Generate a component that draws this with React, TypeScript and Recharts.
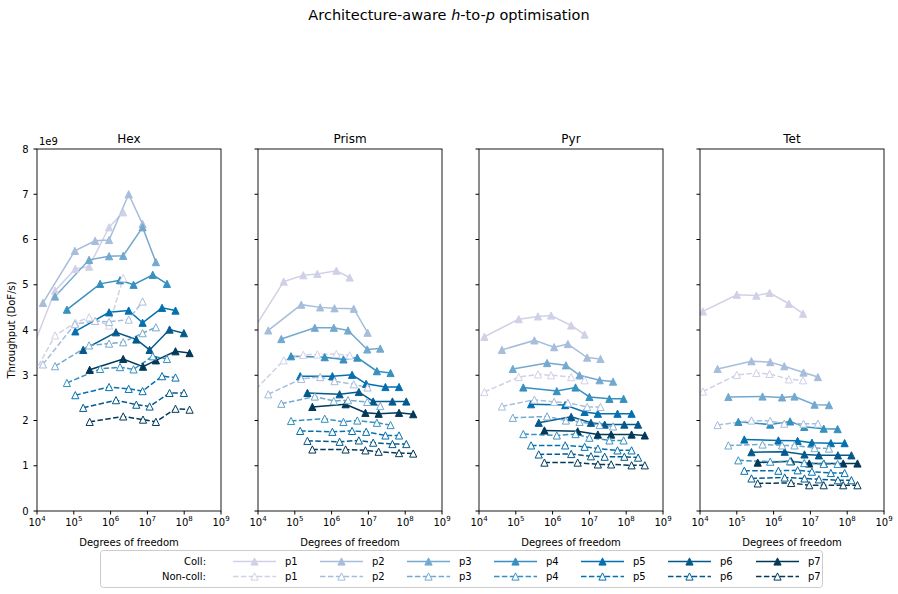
import React from 'react';
import { LineChart, Line, XAxis, YAxis } from 'recharts';

const elements = ['Hex', 'Prism', 'Pyr', 'Tet'];
const orders = ['p1', 'p2', 'p3', 'p4', 'p5', 'p6', 'p7'];
const colors = ['#d0d1e6', '#a6bddb', '#74a9cf', '#3690c0', '#0570b0', '#045a8d', '#023858'];
const xTicks = [1e4, 1e5, 1e6, 1e7, 1e8, 1e9];
const yTicks = [0, 1, 2, 3, 4, 5, 6, 7, 8];

// degrees of freedom per order, throughput in units of 1e9 DoF/s
const hexDof = [
  [4.2e3, 3.1e4, 1.1e5, 2.6e5, 9.1e5, 2.2e6],
  [1.45e4, 1.07e5, 3.8e5, 9.1e5, 3.1e6, 7.4e6],
  [3.1e4, 2.6e5, 9.1e5, 2.2e6, 7.4e6, 1.7e7],
  [6.5e4, 5.2e5, 1.8e6, 4.2e6, 1.4e7, 3.4e7],
  [1.1e5, 9.1e5, 3.1e6, 7.4e6, 2.5e7, 5.8e7],
  [1.8e5, 1.4e6, 5.0e6, 1.15e7, 4.0e7, 9.8e7],
  [2.7e5, 2.2e6, 7.6e6, 1.7e7, 5.8e7, 1.4e8],
];
const hexColl = [
  [3.06, 4.87, 5.35, 5.4, 6.27, 6.6],
  [4.6, 5.75, 5.97, 5.99, 7.0, 6.34],
  [4.74, 5.55, 5.63, 5.64, 6.27, 5.5],
  [4.45, 5.02, 5.1, 5.0, 5.22, 5.02],
  [3.97, 4.39, 4.43, 4.16, 4.49, 4.43],
  [3.56, 3.95, 3.79, 3.56, 4.01, 3.93],
  [3.12, 3.36, 3.19, 3.33, 3.53, 3.49],
];
const hexNonColl = [
  [2.6, 3.88, 4.16, 4.28, 4.1, 5.15],
  [3.24, 4.13, 4.2, 4.18, 4.23, 4.63],
  [3.2, 3.66, 3.7, 3.73, 3.93, 4.06],
  [2.83, 3.14, 3.18, 3.13, 3.42, 3.36],
  [2.56, 2.74, 2.7, 2.65, 2.98, 2.95],
  [2.28, 2.45, 2.35, 2.31, 2.61, 2.61],
  [1.97, 2.09, 2.02, 1.97, 2.26, 2.24],
];

const prismDof = [
  [6.3e3, 5.0e4, 1.7e5, 4.1e5, 1.35e6, 3.1e6],
  [1.9e4, 1.5e5, 4.9e5, 1.2e6, 4.0e6, 9.5e6],
  [4.3e4, 3.5e5, 1.15e6, 2.8e6, 9.3e6, 2.1e7],
  [7.9e4, 6.5e5, 2.1e6, 5.0e6, 1.7e7, 4.0e7],
  [1.4e5, 1.05e6, 3.6e6, 8.7e6, 2.9e7, 6.8e7],
  [2.2e5, 1.65e6, 5.5e6, 1.35e7, 4.5e7, 1.07e8],
  [3.0e5, 2.4e6, 8.3e6, 1.9e7, 6.8e7, 1.65e8],
];
const prismColl = [
  [3.91, 5.07, 5.21, 5.24, 5.31, 5.16],
  [3.99, 4.56, 4.5, 4.48, 4.47, 3.94],
  [3.8, 4.05, 4.05, 3.99, 3.57, 3.59],
  [3.42, 3.4, 3.35, 3.39, 3.09, 3.05],
  [2.98, 2.98, 3.01, 2.81, 2.74, 2.74],
  [2.61, 2.58, 2.63, 2.42, 2.42, 2.42],
  [2.3, 2.36, 2.17, 2.15, 2.17, 2.14],
];
const prismNonColl = [
  [2.57, 3.33, 3.45, 3.46, 3.47, 3.44],
  [2.58, 2.92, 2.96, 2.87, 2.8, 2.73],
  [2.37, 2.53, 2.43, 2.45, 2.41, 2.32],
  [1.99, 2.04, 1.97, 2.0, 1.95, 1.9],
  [1.77, 1.75, 1.77, 1.75, 1.67, 1.67],
  [1.55, 1.53, 1.56, 1.51, 1.48, 1.48],
  [1.36, 1.36, 1.34, 1.31, 1.28, 1.27],
];

const pyrDof = [
  [1.4e4, 1.2e5, 4.0e5, 9.1e5, 3.2e6, 7.4e6],
  [4.2e4, 3.2e5, 1.1e6, 2.6e6, 8.7e6, 2.0e7],
  [8.3e4, 7.1e5, 2.3e6, 5.4e6, 1.9e7, 4.4e7],
  [1.6e5, 1.3e6, 4.2e6, 1.0e7, 3.5e7, 8.5e7],
  [2.6e5, 2.2e6, 7.4e6, 1.7e7, 5.8e7, 1.4e8],
  [4.2e5, 3.2e6, 1.1e7, 2.6e7, 8.9e7, 2.1e8],
  [6.0e5, 4.8e6, 1.7e7, 3.9e7, 1.4e8, 3.2e8],
];
const pyrColl = [
  [3.85, 4.24, 4.3, 4.32, 4.1, 3.9],
  [3.56, 3.77, 3.62, 3.69, 3.39, 3.36],
  [3.14, 3.27, 3.22, 3.0, 2.89, 2.86],
  [2.73, 2.65, 2.73, 2.52, 2.48, 2.48],
  [2.36, 2.34, 2.19, 2.15, 2.15, 2.15],
  [1.95, 2.08, 1.95, 1.91, 1.91, 1.91],
  [1.78, 1.76, 1.69, 1.69, 1.69, 1.67],
];
const pyrNonColl = [
  [2.63, 2.96, 3.02, 3.0, 2.96, 2.89],
  [2.31, 2.46, 2.41, 2.39, 2.3, 2.3],
  [2.06, 2.09, 2.0, 1.97, 1.9, 1.87],
  [1.7, 1.67, 1.7, 1.62, 1.56, 1.56],
  [1.45, 1.45, 1.42, 1.38, 1.34, 1.34],
  [1.25, 1.26, 1.21, 1.2, 1.2, 1.18],
  [1.07, 1.07, 1.03, 1.03, 1.01, 1.01],
];

const tetDof = [
  [1.2e4, 1.0e5, 3.4e5, 7.8e5, 2.6e6, 6.3e6],
  [3.0e4, 2.5e5, 8.1e5, 1.95e6, 6.5e6, 1.6e7],
  [5.9e4, 5.0e5, 1.7e6, 3.7e6, 1.3e7, 3.2e7],
  [1.1e5, 8.1e5, 2.8e6, 6.8e6, 2.3e7, 5.5e7],
  [1.6e5, 1.35e6, 4.5e6, 1.1e7, 3.6e7, 8.5e7],
  [2.5e5, 2.0e6, 6.9e6, 1.7e7, 5.6e7, 1.3e8],
  [3.7e5, 3.0e6, 9.3e6, 2.3e7, 7.8e7, 1.9e8],
];
const tetColl = [
  [4.41, 4.78, 4.76, 4.82, 4.58, 4.36],
  [3.14, 3.31, 3.29, 3.2, 3.06, 2.96],
  [2.52, 2.53, 2.51, 2.53, 2.35, 2.34],
  [1.97, 1.91, 1.98, 1.86, 1.82, 1.81],
  [1.58, 1.56, 1.55, 1.51, 1.5, 1.5],
  [1.3, 1.31, 1.25, 1.23, 1.23, 1.23],
  [1.07, 1.1, 1.05, 1.05, 1.05, 1.05],
];
const tetNonColl = [
  [2.64, 3.01, 3.05, 3.03, 2.91, 2.89],
  [1.9, 2.0, 1.99, 1.93, 1.93, 1.93],
  [1.45, 1.47, 1.45, 1.45, 1.39, 1.38],
  [1.12, 1.09, 1.1, 1.06, 1.04, 1.04],
  [0.89, 0.89, 0.9, 0.87, 0.84, 0.84],
  [0.72, 0.74, 0.72, 0.7, 0.68, 0.68],
  [0.61, 0.62, 0.57, 0.57, 0.57, 0.57],
];

const FONT = '"DejaVu Sans", sans-serif';
const PLOT_TOP = 149;
const PLOT_W = 184;
const PLOT_H = 362;
const Y_AXIS_W = 37;
const RIGHT_PAD = 16;
const panelLefts = [37, 258, 479, 700];

const toPoints = (dof: number[], vals: number[]) => dof.map((x, i) => ({ x, y: vals[i] }));

const triangle = (color: string, filled: boolean) => (props: any) => {
  const { cx, cy, index } = props;
  if (cx == null || cy == null) return <g key={index} />;
  const s = 3.6;
  return (
    <polygon
      key={index}
      points={`${cx},${cy - s} ${cx - s},${cy + s} ${cx + s},${cy + s}`}
      fill={filled ? color : '#fff'}
      stroke={color}
      strokeWidth={1}
    />
  );
};

const DecadeTick = (props: any) => {
  const { x, y, payload } = props;
  const exp = Math.round(Math.log10(payload.value));
  return (
    <text x={x} y={y} dy={9} textAnchor="middle" fontSize={10} fontFamily={FONT} fill="#000">
      <tspan>10</tspan>
      <tspan dy={-5} fontSize={7}>{exp}</tspan>
    </text>
  );
};

const ValueTick = (props: any) => {
  const { x, y, payload } = props;
  return (
    <text x={x} y={y} dy={3.5} textAnchor="end" fontSize={10} fontFamily={FONT} fill="#000">
      {payload.value}
    </text>
  );
};

const BlankTick = () => <g />;

interface PanelProps {
  left: number;
  dof: number[][];
  coll: number[][];
  nonColl: number[][];
  showLabels: boolean;
}

const Panel: React.FC<PanelProps> = ({ left, dof, coll, nonColl, showLabels }) => (
  <div style={{ position: 'absolute', left: left - Y_AXIS_W, top: PLOT_TOP - 5 }}>
    <LineChart
      width={Y_AXIS_W + PLOT_W + RIGHT_PAD}
      height={PLOT_H + 35}
      margin={{ top: 5, right: RIGHT_PAD, bottom: 0, left: 0 }}
    >
      <XAxis
        dataKey="x"
        type="number"
        scale="log"
        domain={[1e4, 1e9]}
        ticks={xTicks}
        interval={0}
        allowDataOverflow
        axisLine={false}
        stroke="#000"
        tickSize={3.5}
        tickMargin={2}
        height={30}
        tick={<DecadeTick />}
      />
      <YAxis
        type="number"
        domain={[0, 8]}
        ticks={yTicks}
        interval={0}
        allowDataOverflow
        axisLine={false}
        stroke="#000"
        width={Y_AXIS_W}
        tickSize={3.5}
        tickMargin={5}
        tick={showLabels ? <ValueTick /> : <BlankTick />}
      />
      {orders.map((p, i) => (
        <Line
          key={`coll-${p}`}
          data={toPoints(dof[i], coll[i])}
          dataKey="y"
          type="linear"
          stroke={colors[i]}
          strokeWidth={1.5}
          dot={triangle(colors[i], true)}
          activeDot={false}
          isAnimationActive={false}
        />
      ))}
      {orders.map((p, i) => (
        <Line
          key={`noncoll-${p}`}
          data={toPoints(dof[i], nonColl[i])}
          dataKey="y"
          type="linear"
          stroke={colors[i]}
          strokeWidth={1.5}
          strokeDasharray="5.5 2.4"
          dot={triangle(colors[i], false)}
          activeDot={false}
          isAnimationActive={false}
        />
      ))}
    </LineChart>
  </div>
);

const legendLabelX = [285, 372, 459, 546, 633, 720, 808];

const Legend: React.FC = () => (
  <svg width={724} height={39} style={{ position: 'absolute', left: 100, top: 550 }}>
    <rect x={0.5} y={0.5} width={722} height={37} rx={3} fill="#fff" stroke="#ccc" />
    <text x={106} y={15} textAnchor="end" fontSize={10} fontFamily={FONT}>Coll:</text>
    <text x={106} y={30} textAnchor="end" fontSize={10} fontFamily={FONT}>Non-coll:</text>
    {orders.map((p, i) => {
      const lx = legendLabelX[i] - 100;
      const x1 = lx - 52;
      const x2 = lx - 9;
      const mid = (x1 + x2) / 2;
      return (
        <g key={p}>
          <line x1={x1} x2={x2} y1={11.5} y2={11.5} stroke={colors[i]} strokeWidth={1.5} />
          <polygon points={`${mid},${7.9} ${mid - 3.6},${15.1} ${mid + 3.6},${15.1}`} fill={colors[i]} stroke={colors[i]} />
          <text x={lx} y={15} fontSize={10} fontFamily={FONT}>{p}</text>
          <line x1={x1} x2={x2} y1={26.5} y2={26.5} stroke={colors[i]} strokeWidth={1.5} strokeDasharray="5.5 2.4" />
          <polygon points={`${mid},${22.9} ${mid - 3.6},${30.1} ${mid + 3.6},${30.1}`} fill="#fff" stroke={colors[i]} />
          <text x={lx} y={30} fontSize={10} fontFamily={FONT}>{p}</text>
        </g>
      );
    })}
  </svg>
);

const panelData = [
  { dof: hexDof, coll: hexColl, nonColl: hexNonColl },
  { dof: prismDof, coll: prismColl, nonColl: prismNonColl },
  { dof: pyrDof, coll: pyrColl, nonColl: pyrNonColl },
  { dof: tetDof, coll: tetColl, nonColl: tetNonColl },
];

const App: React.FC = () => (
  <div style={{ position: 'absolute', left: 0, top: 0, width: 898, height: 594, background: '#fff', fontFamily: FONT }}>
    {panelData.map((d, k) => (
      <Panel key={elements[k]} left={panelLefts[k]} dof={d.dof} coll={d.coll} nonColl={d.nonColl} showLabels={k === 0} />
    ))}
    <svg width={898} height={594} style={{ position: 'absolute', left: 0, top: 0, pointerEvents: 'none' }}>
      <text x={449} y={20} textAnchor="middle" fontSize={14.5} fontFamily={FONT}>
        Architecture-aware <tspan fontStyle="italic">h</tspan>-to-<tspan fontStyle="italic">p</tspan> optimisation
      </text>
      {elements.map((name, k) => {
        const L = panelLefts[k];
        return (
          <g key={name}>
            <rect x={L} y={PLOT_TOP} width={PLOT_W} height={PLOT_H} fill="none" stroke="#000" strokeWidth={0.9} />
            <text x={L + PLOT_W / 2} y={143} textAnchor="middle" fontSize={12} fontFamily={FONT}>{name}</text>
            <text x={L + PLOT_W / 2} y={546} textAnchor="middle" fontSize={10} fontFamily={FONT}>Degrees of freedom</text>
          </g>
        );
      })}
      <text x={39} y={145} fontSize={10} fontFamily={FONT}>1e9</text>
      <text x={15} y={330} textAnchor="middle" fontSize={10} fontFamily={FONT} transform="rotate(-90 15 330)">
        Throughput (DoF/s)
      </text>
    </svg>
    <Legend />
  </div>
);

export default App;
